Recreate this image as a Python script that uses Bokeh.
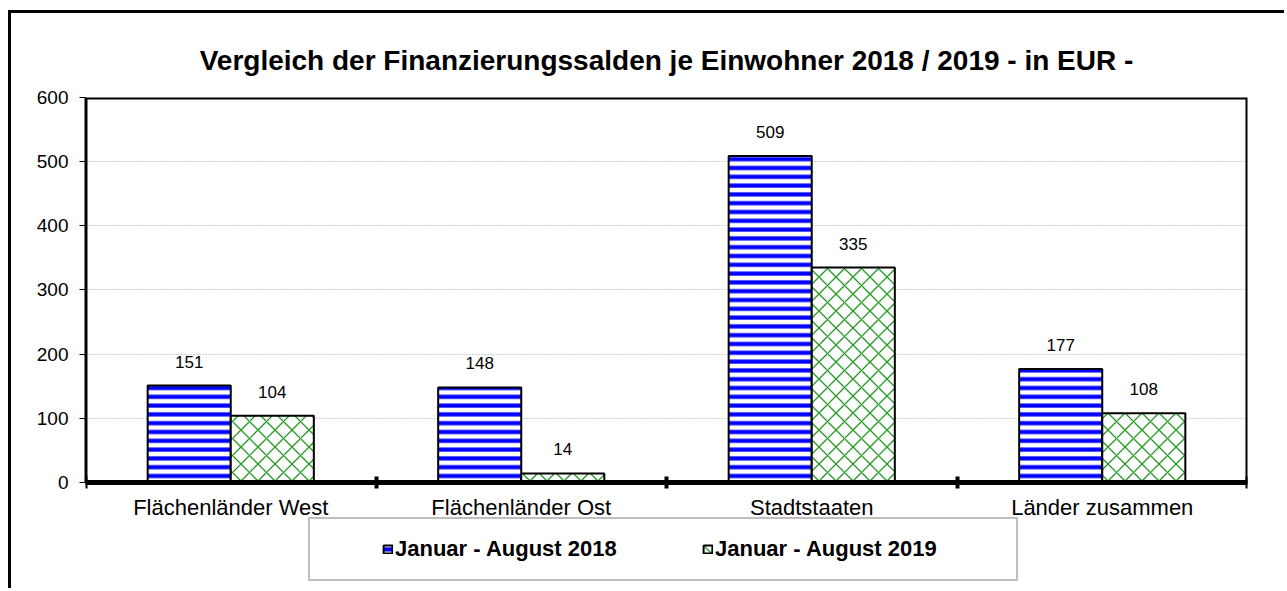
import numpy as np
from bokeh.plotting import figure
from bokeh.models import (ColumnDataSource, Range1d, FixedTicker, Legend, LegendItem,
                          LabelSet, BoxAnnotation)
from bokeh.core.properties import value
from bokeh.transform import dodge
from bokeh.embed import file_html
from bokeh.resources import INLINE

# ---- data ----
categories = ["Flächenländer West", "Flächenländer Ost", "Stadtstaaten", "Länder zusammen"]
series_2018 = [151, 148, 509, 177]
series_2019 = [104, 14, 335, 108]
series_names = ["Januar - August 2018", "Januar - August 2019"]
title_text = "Vergleich der Finanzierungssalden je Einwohner 2018 / 2019 - in EUR -"
y_ticks = [0, 100, 200, 300, 400, 500, 600]
y_min, y_max = -170, 600   # lower part of the frame holds category labels + legend

pos = (np.arange(len(categories)) + 0.5).tolist()
src = ColumnDataSource(dict(x=pos, cat=categories, a=series_2018, b=series_2019,
                            zero=[0] * len(categories),
                            la=[str(v) for v in series_2018], lb=[str(v) for v in series_2019]))

FONT = "Liberation Sans"
W, H = 1276, 578
p = figure(width=W, height=H, output_backend="svg", toolbar_location=None,
           x_range=Range1d(0, len(categories)), y_range=Range1d(y_min, y_max),
           x_axis_location="above",
           min_border_left=74, min_border_right=40, min_border_top=84, min_border_bottom=0)
p.styles = {"margin-left": "8px", "margin-top": "10px",
            "border-left": "3px solid black", "border-top": "3px solid black"}

p.title.text = title_text
p.title.align = "center"
p.title.text_font = FONT
p.title.text_font_size = "28px"
p.title.text_font_style = "bold"
p.title.text_color = "black"
p.title.standoff = 44

bw = 0.286
r1 = p.vbar(x=dodge("x", -bw / 2, range=p.x_range), top="a", bottom=0, width=bw, source=src,
            fill_color="white", line_color="black", line_width=2,
            hatch_pattern="horizontal_line", hatch_color="#0000ff",
            hatch_scale=8.8, hatch_weight=4.2)
r2 = p.vbar(x=dodge("x", bw / 2, range=p.x_range), top="b", bottom=0, width=bw, source=src,
            fill_color="white", line_color="black", line_width=2,
            hatch_pattern="diagonal_cross", hatch_color="#239b23",
            hatch_scale=17, hatch_weight=1.3)

for col, lab, off in (("a", "la", -bw / 2), ("b", "lb", bw / 2)):
    ls = LabelSet(x=dodge("x", off, range=p.x_range), y=col, text=lab, source=src,
                  text_align="center", text_baseline="bottom", y_offset=18,
                  text_font=value(FONT), text_font_size=value("17px"), text_color="black")
    p.add_layout(ls)

# category labels under the axis line
cat_labels = LabelSet(x="x", y="zero", text="cat", source=src, text_align="center",
                      text_baseline="middle", y_offset=-25,
                      text_font=value(FONT), text_font_size=value("22px"), text_color="black")
p.add_layout(cat_labels)

# plot-area border
p.add_layout(BoxAnnotation(left=0, right=len(categories), bottom=0, top=y_max,
                           fill_alpha=0, line_color="black", line_alpha=1, line_width=4))

# x axis: line at 0 with boundary ticks (minor ticks only -> no tick labels)
p.xaxis.fixed_location = 0
p.xaxis.ticker = FixedTicker(ticks=[], minor_ticks=list(range(len(categories) + 1)))
p.xaxis.major_tick_line_alpha = 0
p.xaxis.minor_tick_in = 6
p.xaxis.minor_tick_out = 6
p.xaxis.minor_tick_line_width = 4
p.xaxis.minor_tick_line_color = "black"
p.xaxis.axis_line_width = 5
p.xaxis.axis_line_color = "black"

p.yaxis.ticker = FixedTicker(ticks=y_ticks)
p.yaxis.bounds = (0, y_max)
p.yaxis.minor_tick_line_alpha = 0
p.yaxis.major_tick_in = 0
p.yaxis.major_tick_out = 6
p.yaxis.major_tick_line_width = 1
p.yaxis.axis_line_width = 2
p.yaxis.axis_line_color = "black"
p.yaxis.major_label_text_font = FONT
p.yaxis.major_label_text_font_size = "19px"
p.yaxis.major_label_text_color = "black"
p.yaxis.major_label_standoff = 11

p.xgrid.grid_line_color = None
p.ygrid.grid_line_color = "#a0a0a0"
p.ygrid.grid_line_dash = "1 2"
p.ygrid.grid_line_width = 1

p.outline_line_alpha = 0

legend = Legend(items=[LegendItem(label=series_names[0], renderers=[r1]),
                       LegendItem(label=series_names[1], renderers=[r2])],
                orientation="horizontal", location=(223, 10),
                title=" ", title_location="left", title_standoff=40,
                title_text_font_size="13px",
                padding=17, spacing=23, label_width=284, label_standoff=2,
                glyph_width=11, glyph_height=10, margin=0,
                label_text_font=FONT, label_text_font_size="22px", label_text_font_style="bold",
                label_text_color="black",
                border_line_color="#808080", border_line_width=2,
                background_fill_alpha=1, background_fill_color="white")
p.add_layout(legend, "center")

open("out.html", "w").write(file_html(p, INLINE))
